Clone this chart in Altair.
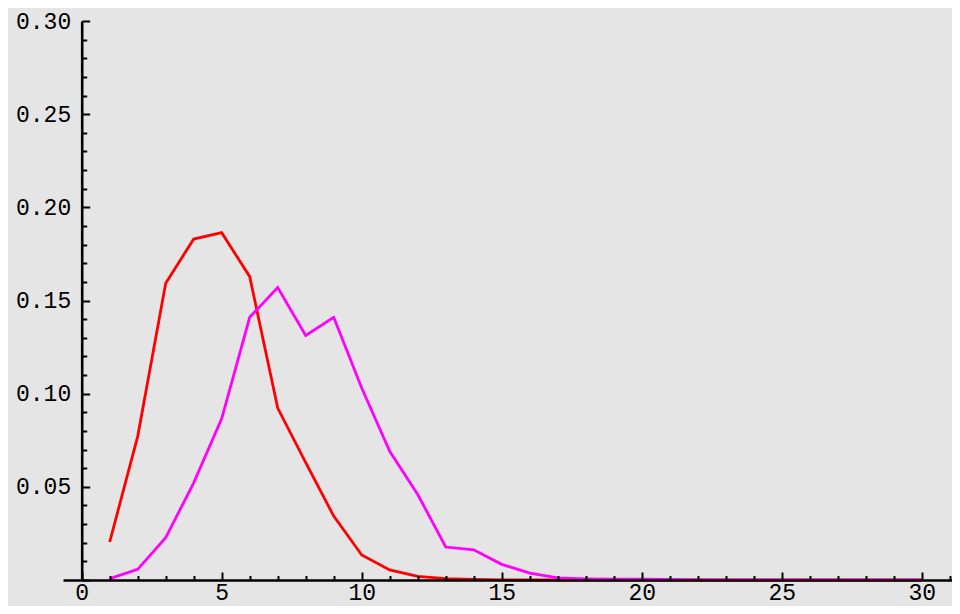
import altair as alt
import pandas as pd

# ---- data ----
k_values = list(range(1, 31))
red_values = [0.0204, 0.0771, 0.1593, 0.1830, 0.1864, 0.1628, 0.0923, 0.0630, 0.0343, 0.0134,
              0.0054, 0.0019, 0.0007, 0.0003, 0.0001, 0.0, 0.0, 0.0, 0.0, 0.0,
              0.0, 0.0, 0.0, 0.0, 0.0, 0.0, 0.0, 0.0, 0.0, 0.0]
magenta_values = [0.0007, 0.0057, 0.0227, 0.0521, 0.0866, 0.1410, 0.1570, 0.1312, 0.1410, 0.1030,
                  0.0691, 0.0459, 0.0177, 0.0162, 0.0084, 0.0037, 0.0011, 0.0006, 0.0004, 0.0004,
                  0.0003, 0.0001, 0.0, 0.0, 0.0, 0.0, 0.0, 0.0, 0.0, 0.0]
series_names = ["red", "magenta"]
series_colors = ["#ff0000", "#ff00ff"]

x_label_values = [0, 5, 10, 15, 20, 25, 30]
x_tick_values = list(range(0, 32))
y_label_values = [0.05, 0.10, 0.15, 0.20, 0.25, 0.30]
y_tick_values = [round(i * 0.01, 2) for i in range(31)]

df = pd.DataFrame({
    "k": k_values * 2,
    "p": red_values + magenta_values,
    "s": [series_names[0]] * len(k_values) + [series_names[1]] * len(k_values),
})

# ---- layout ----
XMIN, XMAX = -0.668, 31.08
YMIN, YMAX = 0.0, 0.30
W, H = 889, 559
x0_px = (0 - XMIN) / (XMAX - XMIN) * W
FONT = "Liberation Mono"
FS = 23

xs = alt.Scale(domain=[XMIN, XMAX], nice=False, zero=False)
ys = alt.Scale(domain=[YMIN, YMAX], nice=False, zero=False)
color = alt.Color("s:N", scale=alt.Scale(domain=series_names, range=series_colors), legend=None)

base = alt.Chart(df)

lines = base.mark_line(strokeWidth=2.8, clip=False).encode(
    x=alt.X("k:Q", scale=xs, axis=alt.Axis(
        orient="bottom", values=x_label_values, ticks=False, tickSize=0, domain=False, grid=False,
        labelFont=FONT, labelFontSize=FS, labelColor="black", labelBaseline="alphabetic",
        labelPadding=19, labelFlush=False, labelOverlap=False, title=None)),
    y=alt.Y("p:Q", scale=ys, axis=alt.Axis(
        orient="left", values=y_label_values, format=".2f", ticks=False, tickSize=0, domain=False,
        grid=False, labelFont=FONT, labelFontSize=FS, labelColor="black", labelPadding=11,
        labelFlush=False, labelOverlap=False, offset=-x0_px, title=None)),
    color=color,
)

ticks = base.mark_line(opacity=0).encode(
    x=alt.X("k:Q", scale=xs, axis=alt.Axis(
        orient="top", values=x_tick_values, labels=False, grid=False, domain=True,
        domainColor="black", domainWidth=2.6, tickColor="black", tickWidth=2,
        tickSize={"condition": {"test": "datum.value % 5 === 0", "value": 8}, "value": 4.5},
        offset=-H, title=None, zindex=1)),
    y=alt.Y("p:Q", scale=ys, axis=alt.Axis(
        orient="right", values=y_tick_values, labels=False, grid=False, domain=True,
        domainColor="black", domainWidth=2.6, tickColor="black", tickWidth=2,
        tickSize={"condition": {"test": "round(datum.value * 100) % 5 === 0", "value": 8}, "value": 5},
        offset=-(W - x0_px), title=None, zindex=1)),
    detail="s:N",
)

chart = alt.layer(lines, ticks).resolve_axis(
    x="independent", y="independent"
).properties(
    width=W, height=H,
    padding={"left": 55, "top": 13, "right": 0, "bottom": 26},
    autosize=alt.AutoSizeParams(type="none"),
    background="#e5e5e5",
).configure_view(stroke=None)

chart.save("out.html", embed_options={"renderer": "svg", "actions": False})
